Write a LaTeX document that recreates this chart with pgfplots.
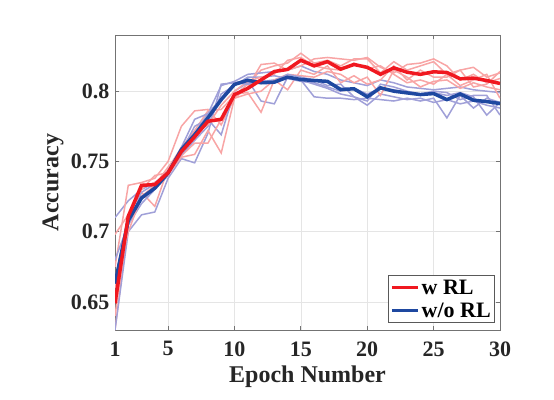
\documentclass[border=0pt]{standalone}
\usepackage{fontspec}
\setmainfont{Liberation Serif}
\usepackage{pgfplots}
\usepackage{pgfplotstable}
\pgfplotsset{compat=1.18}
\definecolor{mred}{RGB}{240,24,32}
\definecolor{mblue}{RGB}{30,72,160}
\definecolor{fred}{RGB}{248,165,165}
\definecolor{fblue}{RGB}{160,160,216}

\pgfplotstableread{
x  R1    R2    R3    R4    R5    B1    B2    B3    B4    B5    MR     MB
1  0.630 0.675 0.698 0.640 0.660 0.710 0.630 0.680 0.650 0.665 0.649  0.663
2  0.705 0.733 0.712 0.708 0.700 0.722 0.700 0.705 0.705 0.712 0.711  0.708
3  0.728 0.735 0.730 0.732 0.725 0.730 0.712 0.720 0.725 0.728 0.733  0.724
4  0.718 0.738 0.740 0.735 0.733 0.735 0.714 0.730 0.732 0.734 0.7335 0.731
5  0.745 0.750 0.742 0.740 0.746 0.742 0.738 0.740 0.741 0.743 0.742  0.7418
6  0.760 0.775 0.753 0.754 0.758 0.760 0.752 0.757 0.755 0.758 0.757  0.7584
7  0.772 0.786 0.755 0.763 0.770 0.780 0.749 0.775 0.765 0.770 0.7675 0.769
8  0.786 0.787 0.772 0.763 0.776 0.784 0.770 0.780 0.775 0.784 0.7786 0.781
9  0.787 0.776 0.756 0.780 0.790 0.804 0.805 0.769 0.798 0.795 0.780  0.794
10 0.797 0.795 0.795 0.798 0.800 0.807 0.806 0.800 0.804 0.806 0.7976 0.8048
11 0.805 0.803 0.798 0.799 0.807 0.812 0.808 0.806 0.810 0.805 0.802  0.8078
12 0.815 0.819 0.800 0.785 0.810 0.813 0.793 0.807 0.810 0.806 0.808  0.806
13 0.818 0.820 0.808 0.808 0.812 0.814 0.791 0.808 0.811 0.807 0.814  0.8064
14 0.820 0.815 0.812 0.801 0.822 0.815 0.810 0.810 0.809 0.812 0.8155 0.810
15 0.827 0.818 0.811 0.815 0.824 0.818 0.808 0.808 0.807 0.810 0.822  0.8083
16 0.820 0.823 0.810 0.812 0.818 0.814 0.805 0.796 0.806 0.808 0.818  0.8076
17 0.822 0.824 0.814 0.818 0.816 0.812 0.802 0.795 0.803 0.804 0.821  0.807
18 0.818 0.823 0.812 0.806 0.815 0.808 0.798 0.795 0.800 0.805 0.8157 0.8012
19 0.823 0.822 0.806 0.811 0.820 0.806 0.796 0.794 0.802 0.796 0.819  0.8017
20 0.823 0.824 0.810 0.805 0.816 0.804 0.790 0.795 0.798 0.793 0.817  0.796
21 0.813 0.817 0.797 0.808 0.818 0.808 0.798 0.794 0.802 0.805 0.812  0.8024
22 0.821 0.813 0.815 0.818 0.812 0.806 0.796 0.793 0.801 0.803 0.8166 0.800
23 0.815 0.819 0.810 0.808 0.806 0.803 0.794 0.795 0.799 0.800 0.8135 0.7988
24 0.818 0.820 0.803 0.815 0.808 0.802 0.795 0.793 0.797 0.798 0.812  0.7976
25 0.821 0.823 0.807 0.810 0.805 0.801 0.792 0.795 0.799 0.800 0.8138 0.7983
26 0.812 0.818 0.808 0.810 0.812 0.802 0.794 0.781 0.797 0.799 0.8133 0.794
27 0.815 0.808 0.802 0.815 0.804 0.803 0.791 0.797 0.799 0.794 0.8088 0.798
28 0.817 0.812 0.806 0.803 0.808 0.801 0.793 0.788 0.796 0.797 0.8093 0.7936
29 0.810 0.806 0.803 0.805 0.812 0.800 0.790 0.795 0.783 0.797 0.8076 0.7926
30 0.813 0.809 0.801 0.814 0.795 0.799 0.788 0.792 0.792 0.783 0.8055 0.7912
}\datatable

\begin{document}
\begin{tikzpicture}[x=1pt,y=1pt]
\path[use as bounding box] (0,0) rectangle (554,399);
\begin{axis}[at={(115pt,69pt)}, anchor=south west, scale only axis,
  width=385pt, height=295pt,
  xmin=1, xmax=30, ymin=0.63, ymax=0.84,
  xtick={1,5,10,15,20,25,30},
  ytick={0.65,0.7,0.75,0.8}, yticklabels={0.65,0.7,0.75,0.8},
  grid=major, major grid style={color=black!10, line width=0.6pt},
  axis line style={color=black!55, line width=0.8pt},
  tick style={color=black!55, line width=0.8pt}, tick align=inside, major tick length=4pt,
  /pgf/number format/assume math mode=true,
  ticklabel style={font=\fontsize{22}{22}\selectfont\bfseries, text=black!85},
  xticklabel style={yshift=-8pt},
  yticklabel style={xshift=-2pt},
  xlabel={Epoch Number}, ylabel={Accuracy},
  label style={font=\fontsize{24}{24}\selectfont\bfseries, text=black!85},
  xlabel style={at={(axis description cs:0.5,-0.16)}, anchor=center},
  ylabel style={at={(axis description cs:-0.161,0.5)}, anchor=center},
  reverse legend,
  legend cell align=left,
  legend style={at={(axis description cs:0.987,0.024)}, anchor=south east,
    font=\fontsize{22}{22}\selectfont\bfseries, draw=black!65, line width=0.6pt,
    inner sep=2pt, row sep=3pt},
  legend image code/.code={\draw[#1, line width=3.5pt] (0pt,0pt) -- (26pt,0pt);},
]
\addplot[fred, line width=1.5pt, forget plot] table[x=x, y=R1] {\datatable};
\addplot[fblue, line width=1.5pt, forget plot] table[x=x, y=B1] {\datatable};
\addplot[fred, line width=1.5pt, forget plot] table[x=x, y=R2] {\datatable};
\addplot[fblue, line width=1.5pt, forget plot] table[x=x, y=B2] {\datatable};
\addplot[fred, line width=1.5pt, forget plot] table[x=x, y=R3] {\datatable};
\addplot[fblue, line width=1.5pt, forget plot] table[x=x, y=B3] {\datatable};
\addplot[fred, line width=1.5pt, forget plot] table[x=x, y=R4] {\datatable};
\addplot[fblue, line width=1.5pt, forget plot] table[x=x, y=B4] {\datatable};
\addplot[fred, line width=1.5pt, forget plot] table[x=x, y=R5] {\datatable};
\addplot[fblue, line width=1.5pt, forget plot] table[x=x, y=B5] {\datatable};
\addplot[mblue, line width=3.5pt] table[x=x, y=MB] {\datatable};
\addlegendentry{w/o RL}
\addplot[mred, line width=3.5pt] table[x=x, y=MR] {\datatable};
\addlegendentry{w RL}
\end{axis}
\end{tikzpicture}
\end{document}
